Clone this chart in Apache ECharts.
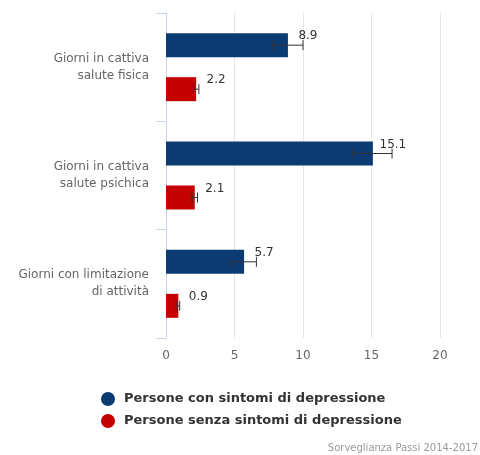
<!DOCTYPE html>
<html>
<head>
<meta charset="utf-8">
<script src="https://cdn.jsdelivr.net/npm/echarts@6/dist/echarts.min.js"></script>
<style>
  html, body { margin: 0; padding: 0; background: #fff; }
  #chart { width: 480px; height: 455px; }
</style>
</head>
<body>
<div id="chart"></div>
<script>
// Giorni medi in cattiva salute, con intervallo di confidenza
const categories = [
  'Giorni in cattiva\nsalute fisica',
  'Giorni in cattiva\nsalute psichica',
  'Giorni con limitazione\ndi attività'
];
const seriesNames = [
  'Persone con sintomi di depressione',
  'Persone senza sintomi di depressione'
];
const conDepressione = [8.9, 15.1, 5.7];
const senzaDepressione = [2.2, 2.1, 0.9];
// limiti inferiore / superiore dell'intervallo di confidenza
const conLow = [7.8, 13.6, 4.7];
const conHigh = [10.0, 16.5, 6.6];
const senzaLow = [2.0, 1.9, 0.8];
const senzaHigh = [2.4, 2.3, 1.0];
const xTicks = [0, 5, 10, 15, 20];

const colors = ['#0c3a72', '#c40000'];
const FONT = '"DejaVu Sans", Verdana, sans-serif';
const BAR_W = 24;
const BAR_OFFSET = 22; // distanza del centro barra dal centro categoria

function errorSeries(low, high, shift, name) {
  return {
    type: 'custom',
    name: name + ' IC',
    silent: true,
    z: 5,
    data: low.map((l, i) => [i, l, high[i]]),
    encode: { x: [1, 2], y: 0 },
    renderItem(params, api) {
      const cat = api.value(0);
      const p1 = api.coord([api.value(1), cat]);
      const p2 = api.coord([api.value(2), cat]);
      const y = p1[1] + shift;
      const h = 5;
      const style = { stroke: '#333', lineWidth: 1 };
      return {
        type: 'group',
        children: [
          { type: 'line', shape: { x1: p1[0], y1: y, x2: p2[0], y2: y }, style },
          { type: 'line', shape: { x1: p1[0], y1: y - h, x2: p1[0], y2: y + h }, style },
          { type: 'line', shape: { x1: p2[0], y1: y - h, x2: p2[0], y2: y + h }, style }
        ]
      };
    }
  };
}

function barSeries(name, values, color) {
  return {
    type: 'bar',
    name,
    data: values,
    barWidth: BAR_W,
    barGap: (2 * BAR_OFFSET - BAR_W) / BAR_W * 100 + '%',
    itemStyle: { color },
    label: {
      show: true,
      position: ['100%', 0],
      offset: [20, 3],
      align: 'center',
      verticalAlign: 'middle',
      color: '#333',
      fontFamily: FONT,
      fontSize: 12,
      formatter: p => p.value.toFixed(1)
    }
  };
}

const chart = echarts.init(document.getElementById('chart'));
chart.setOption({
  animation: false,
  textStyle: { fontFamily: FONT },
  grid: { left: 166, right: 40, top: 13, bottom: 117 },
  xAxis: {
    type: 'value',
    min: xTicks[0],
    max: xTicks[xTicks.length - 1],
    interval: 5,
    axisLine: { show: false },
    axisTick: { show: false },
    splitLine: { lineStyle: { color: '#e6e6e6' } },
    axisLabel: { color: '#666', fontSize: 12, margin: 12, fontFamily: FONT }
  },
  yAxis: {
    type: 'category',
    inverse: true,
    data: categories,
    axisLine: { lineStyle: { color: '#ccd6eb' } },
    axisTick: { show: true, length: 10, lineStyle: { color: '#ccd6eb' } },
    axisLabel: {
      color: '#666', fontSize: 12, margin: 17, lineHeight: 17,
      align: 'right', fontFamily: FONT
    }
  },
  legend: {
    orient: 'vertical',
    left: 96,
    top: 387,
    itemGap: 8,
    itemWidth: 14,
    itemHeight: 14,
    icon: 'circle',
    data: seriesNames,
    textStyle: {
      color: '#333', fontSize: 13, fontWeight: 'bold', fontFamily: FONT,
      padding: [0, 0, 0, 4]
    }
  },
  graphic: [{
    type: 'text',
    right: 2,
    top: 443,
    style: {
      text: 'Sorveglianza Passi 2014-2017',
      fill: '#999',
      fontSize: 10,
      fontFamily: FONT
    }
  }],
  series: [
    barSeries(seriesNames[0], conDepressione, colors[0]),
    barSeries(seriesNames[1], senzaDepressione, colors[1]),
    errorSeries(conLow, conHigh, -BAR_OFFSET, seriesNames[0]),
    errorSeries(senzaLow, senzaHigh, BAR_OFFSET, seriesNames[1])
  ]
});
</script>
</body>
</html>
